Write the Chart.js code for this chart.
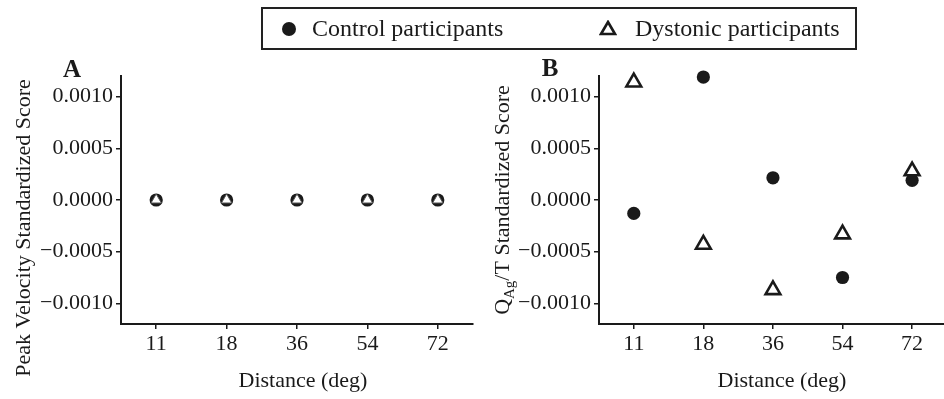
<!DOCTYPE html>
<html><head><meta charset="utf-8">
<script src="https://cdn.jsdelivr.net/npm/chart.js@4.4.1/dist/chart.umd.min.js"></script>
<style>
html,body{margin:0;padding:0;width:944px;height:399px;overflow:hidden;background:#fff;}
.panel{position:absolute;top:0;height:399px;}
#pa{left:0;width:480px;}
#pb{left:476px;width:482px;}
#legend{position:absolute;left:261px;top:7px;width:592px;height:39px;border:2px solid #222;font-family:"Liberation Serif",serif;font-size:24px;color:#1a1a1a;}
#legend .txt{position:absolute;top:6px;line-height:26px;white-space:nowrap;}
#legend svg{position:absolute;}
</style></head>
<body>
<div class="panel" id="pa"><canvas id="ca"></canvas></div>
<div class="panel" id="pb"><canvas id="cb"></canvas></div>
<div id="legend">
  <svg style="left:18px;top:12px" width="16" height="16"><circle cx="8" cy="8" r="7" fill="#1a1a1a"/></svg>
  <span class="txt" style="left:49px" id="lg1"></span>
  <svg style="left:336px;top:11px" width="18" height="16"><polygon points="9,2 16,14 2,14" fill="#fff" stroke="#1a1a1a" stroke-width="2.6" stroke-linejoin="miter"/></svg>
  <span class="txt" style="left:372px" id="lg2"></span>
</div>
<script>
// ---- data ----
const distances = ['11', '18', '36', '54', '72'];
const seriesNames = ['Control participants', 'Dystonic participants'];
const yTickValues = [-0.001, -0.0005, 0, 0.0005, 0.001];
const peakVelControl = [0, 0, 0, 0, 0];
const peakVelDystonic = [0, 0, 0, 0, 0];
const qagControl = [-0.00013, 0.00119, 0.000215, -0.00075, 0.00019];
const qagDystonic = [0.00114, -0.00043, -0.00087, -0.00033, 0.00028];
const xTitle = 'Distance (deg)';
const yTitleA = 'Peak Velocity Standardized Score';
const yTitleB = [{t:'Q'},{t:'Ag',sub:true},{t:'/T Standardized Score'}];

document.getElementById('lg1').textContent = seriesNames[0];
document.getElementById('lg2').textContent = seriesNames[1];

const FONT = '"Liberation Serif", "Times New Roman", serif';
const INK = '#1a1a1a';

const titlePlugin = {
  id: 'panelText',
  afterDraw(chart, args, o) {
    const ctx = chart.ctx;
    ctx.save();
    ctx.fillStyle = INK;
    ctx.textBaseline = 'middle';
    // panel letter
    ctx.font = 'bold 25px ' + FONT;
    ctx.textAlign = 'center';
    ctx.fillText(o.letter, o.letterX, o.letterY);
    // x title
    ctx.font = '22px ' + FONT;
    ctx.fillText(o.xText, o.xX, o.xY);
    // y title
    ctx.translate(o.yX, o.yY);
    ctx.rotate(-Math.PI / 2);
    ctx.textAlign = 'left';
    ctx.textBaseline = 'alphabetic';
    let total = 0;
    const widths = o.yParts.map(p => {
      ctx.font = (p.sub ? '15px ' : '22px ') + FONT;
      const w = ctx.measureText(p.t).width; total += w; return w;
    });
    let x = -total / 2;
    o.yParts.forEach((p, i) => {
      ctx.font = (p.sub ? '15px ' : '22px ') + FONT;
      ctx.fillText(p.t, x, p.sub ? 12 : 7);
      x += widths[i];
    });
    ctx.restore();
  }
};

function makeChart(id, ctrl, dyst, triStyle, txt) {
  return new Chart(document.getElementById(id), {
    type: 'line',
    data: {
      labels: distances,
      datasets: [
        { label: seriesNames[0], data: ctrl, showLine: false, order: 2, clip: false,
          pointStyle: 'circle', pointRadius: 6.6, pointHoverRadius: 6.6,
          pointBackgroundColor: INK, pointBorderColor: INK, pointBorderWidth: 0 },
        { label: seriesNames[1], data: dyst, showLine: false, order: 1, clip: false,
          pointStyle: 'triangle', pointRadius: triStyle.r, pointHoverRadius: triStyle.r,
          pointBackgroundColor: triStyle.fill, pointBorderColor: triStyle.stroke,
          pointBorderWidth: triStyle.bw }
      ]
    },
    options: {
      responsive: false, animation: false, devicePixelRatio: 1,
      layout: { padding: { top: 76, right: 5, bottom: 0, left: 0 } },
      plugins: { legend: { display: false }, tooltip: { enabled: false }, panelText: txt },
      scales: {
        x: {
          offset: true,
          afterFit(s) { s.height = 75; },
          grid: { offset: false, drawOnChartArea: false, drawTicks: true, tickLength: 5, color: INK, lineWidth: 1.5 },
          border: { display: true, color: INK, width: 2 },
          ticks: { color: INK, font: { family: FONT, size: 22 }, padding: 2, maxRotation: 0 }
        },
        y: {
          min: -0.0012, max: 0.0012,
          afterFit(s) { s.width = txt.yAxisW; },
          afterBuildTicks(s) { s.ticks = yTickValues.map(v => ({ value: v })); },
          grid: { drawOnChartArea: false, drawTicks: true, tickLength: 5, color: INK, lineWidth: 1.5 },
          border: { display: true, color: INK, width: 2 },
          ticks: { color: INK, font: { family: FONT, size: 22 }, padding: 3,
            callback: v => (Math.abs(v) < 1e-12 ? 0 : v).toFixed(4).replace('-', '\u2212') }
        }
      }
    },
    plugins: [titlePlugin]
  });
}

const ca = document.getElementById('ca'); ca.width = 480; ca.height = 399;
const cb = document.getElementById('cb'); cb.width = 482; cb.height = 399;

makeChart('ca', peakVelControl, peakVelDystonic,
  { r: 6, fill: '#ffffff', stroke: '#555555', bw: 1 },
  { letter: 'A', letterX: 72, letterY: 71, xText: xTitle, xX: 303, xY: 381,
    yParts: [{ t: yTitleA }], yX: 23, yY: 228, yAxisW: 121 });

makeChart('cb', qagControl, qagDystonic,
  { r: 8.5, fill: '#ffffff', stroke: INK, bw: 2.6 },
  { letter: 'B', letterX: 74, letterY: 70, xText: xTitle, xX: 306, xY: 381,
    yParts: yTitleB, yX: 26, yY: 200, yAxisW: 123 });
</script>
</body></html>
